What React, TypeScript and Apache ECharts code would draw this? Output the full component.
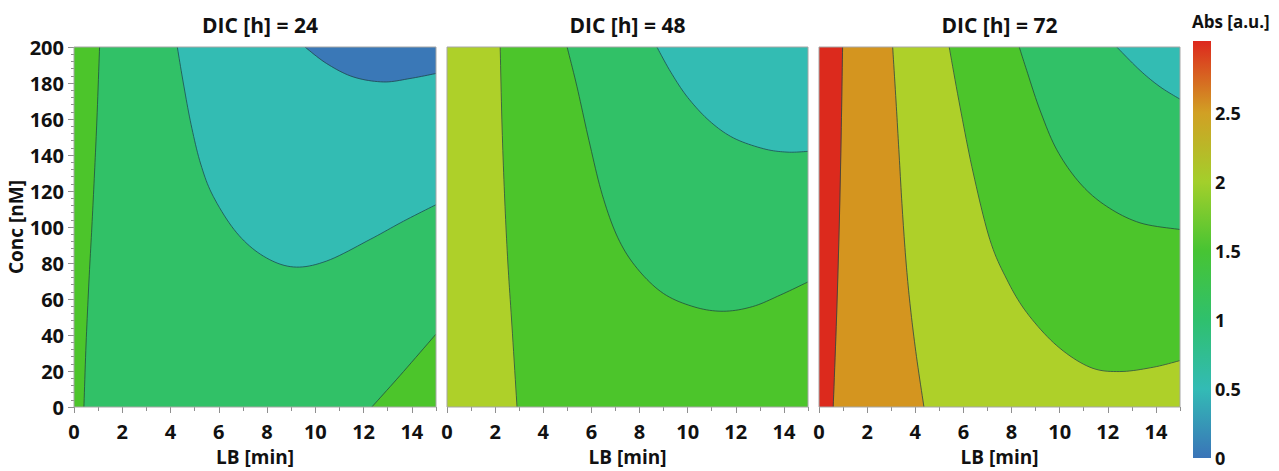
import React, { useEffect, useRef } from 'react';
import * as echarts from 'echarts';

// ---------- data ----------
const DIC_HOURS = [24, 48, 72];
const LB_MAJOR_TICKS = [0, 2, 4, 6, 8, 10, 12, 14];
const LB_MINOR_TICKS = [1, 3, 5, 7, 9, 11, 13, 15];
const LB_RANGE = [0, 15];
const CONC_RANGE = [0, 200];
const ABS_RANGE = [0, 3.02];
const ABS_STOPS = [0, 0.5, 1, 1.5, 2, 2.5, 3.02];
const ABS_STOP_COLORS = ['#3a74b8', '#33bbb5', '#2fc06d', '#47c433', '#a3cf2b', '#d1a024', '#dd281e'];

// contour boundaries [LB min, Conc nM]
const DOMAIN = [[0, 0], [15, 0], [15, 200], [0, 200]];

// DIC 24 h
const D24_LEFT = [[0.41, 0], [0.5, 35], [0.62, 70], [0.74, 100], [0.85, 130], [0.95, 160], [1.06, 200]];
const D24_TEAL = [[4.28, 200], [4.53, 180], [4.85, 157], [5.25, 135], [5.77, 117], [6.74, 96.8], [7.85, 83.8], [9.09, 77.8], [10.47, 81.1], [12.27, 93.1], [13.65, 103.2], [15, 112.4]];
const D24_BLUE = [[9.57, 200], [10.47, 190.8], [11.57, 183.4], [12.82, 180.6], [13.92, 182.5], [15, 185.3]];
const D24_LOWRIGHT = [[12.34, 0], [13.51, 17.5], [15, 40.5]];

// DIC 48 h
const D48_YELLOW = [[2.91, 0], [2.7, 45], [2.53, 80], [2.4, 115], [2.29, 155], [2.21, 200]];
const D48_LIME = [[4.99, 200], [5.4, 178], [5.9, 148], [6.45, 118], [7.1, 94], [7.9, 77], [9.0, 63], [10.3, 55.5], [11.5, 53.2], [12.7, 55.8], [13.85, 62.2], [15, 69.5]];
const D48_TEAL = [[8.72, 200], [9.3, 186], [10.0, 172], [10.9, 159], [11.9, 149.5], [13.15, 143.5], [14.13, 141.6], [15, 142]];

// DIC 72 h
const D72_RED = [[0.98, 200], [0.92, 150], [0.84, 100], [0.73, 50], [0.59, 0]];
const D72_ORANGE = [[3.06, 200], [3.2, 170], [3.33, 140], [3.46, 110], [3.62, 80], [3.8, 55], [4.05, 28], [4.36, 0]];
const D72_YELLOW = [[5.41, 200], [5.86, 166.8], [6.41, 130], [7.1, 93], [7.8, 71], [8.63, 52.5], [9.88, 34.1], [11.26, 22.1], [12.5, 19.7], [13.89, 22.1], [15, 25.8]];
const D72_LIME = [[8.32, 200], [8.63, 187], [9.18, 165], [9.88, 142.9], [10.84, 124.4], [11.95, 111.5], [13.34, 102.3], [15, 98.6]];
const D72_TEAL = [[12.37, 200], [13.34, 187], [14.17, 177.9], [15, 171]];

// ---------- styles ----------
const FILL = {
  blue: '#3a78b7',
  teal: '#33bcb3',
  green: '#31c167',
  lime: '#4cc52b',
  yellow: '#aed029',
  orange: '#d4951f',
  red: '#dc2a1d',
};
const LINE_COLOR = 'rgba(30,70,70,0.75)';
const FONT = '"Open Sans", "Noto Sans", sans-serif';
const TEXT_COLOR = '#111';

type Region = { fill: string; curve: number[][]; close: number[][] };

const PANELS: Region[][] = [
  [
    { fill: FILL.green, curve: [], close: DOMAIN },
    { fill: FILL.lime, curve: D24_LEFT, close: [[0, 200], [0, 0]] },
    { fill: FILL.teal, curve: D24_TEAL, close: [[15, 200]] },
    { fill: FILL.blue, curve: D24_BLUE, close: [[15, 200]] },
    { fill: FILL.lime, curve: D24_LOWRIGHT, close: [[15, 0]] },
  ],
  [
    { fill: FILL.green, curve: [], close: DOMAIN },
    { fill: FILL.lime, curve: D48_LIME, close: [[15, 0], [0, 0], [0, 200]] },
    { fill: FILL.yellow, curve: D48_YELLOW, close: [[0, 200], [0, 0]] },
    { fill: FILL.teal, curve: D48_TEAL, close: [[15, 200]] },
  ],
  [
    { fill: FILL.green, curve: [], close: DOMAIN },
    { fill: FILL.lime, curve: D72_LIME, close: [[15, 0], [0, 0], [0, 200]] },
    { fill: FILL.yellow, curve: D72_YELLOW, close: [[15, 0], [0, 0], [0, 200]] },
    { fill: FILL.orange, curve: D72_ORANGE, close: [[0, 0], [0, 200]] },
    { fill: FILL.red, curve: D72_RED, close: [[0, 0], [0, 200]] },
    { fill: FILL.teal, curve: D72_TEAL, close: [[15, 200]] },
  ],
];

function smoothPts(pts: number[][], seg = 10): number[][] {
  if (pts.length < 3) return pts;
  const out: number[][] = [];
  for (let i = 0; i < pts.length - 1; i++) {
    const p0 = pts[i - 1] || pts[i];
    const p1 = pts[i];
    const p2 = pts[i + 1];
    const p3 = pts[i + 2] || pts[i + 1];
    for (let t = 0; t < seg; t++) {
      const s = t / seg;
      const s2 = s * s;
      const s3 = s2 * s;
      out.push([0, 1].map(
        (k) =>
          0.5 *
          (2 * p1[k] +
            (-p0[k] + p2[k]) * s +
            (2 * p0[k] - 5 * p1[k] + 4 * p2[k] - p3[k]) * s2 +
            (-p0[k] + 3 * p1[k] - 3 * p2[k] + p3[k]) * s3)
      ));
    }
  }
  out.push(pts[pts.length - 1]);
  return out;
}

const GRIDS = [
  { left: 74, top: 47, width: 362, height: 361 },
  { left: 447, top: 47, width: 361, height: 361 },
  { left: 819, top: 47, width: 361, height: 361 },
];
const TITLE_X = [260, 627.5, 999.5];

export default function App() {
  const ref = useRef<HTMLDivElement>(null);
  useEffect(() => {
    if (!ref.current) return;
    const chart = echarts.init(ref.current, undefined, { renderer: 'svg' });

    const grid: any[] = GRIDS.map((g) => ({
      ...g,
      show: true,
      borderColor: '#a6a6a6',
      borderWidth: 1,
      backgroundColor: 'transparent',
      z: 5,
    }));
    grid.push({ left: 1193, top: 41, width: 18, height: 417 });

    const xAxis: any[] = [];
    const yAxis: any[] = [];
    const series: any[] = [];

    PANELS.forEach((regions, i) => {
      xAxis.push({
        type: 'value',
        gridIndex: i,
        position: 'bottom',
        min: LB_RANGE[0],
        max: LB_RANGE[1],
        name: 'LB [min]',
        nameLocation: 'middle',
        nameGap: 40,
        nameTextStyle: { fontFamily: FONT, fontWeight: 'bold', fontSize: 19, color: TEXT_COLOR },
        axisLine: { show: false },
        splitLine: { show: false },
        axisTick: { show: true, customValues: LB_MAJOR_TICKS, length: 6, lineStyle: { color: '#8f8f8f' } },
        axisLabel: { customValues: LB_MAJOR_TICKS, fontFamily: FONT, fontWeight: 'bold', fontSize: 20, color: TEXT_COLOR, margin: 14 },
      });
      xAxis.push({
        type: 'value',
        gridIndex: i,
        position: 'bottom',
        min: LB_RANGE[0],
        max: LB_RANGE[1],
        axisLine: { show: false },
        splitLine: { show: false },
        axisLabel: { show: false },
        axisTick: { show: true, customValues: LB_MINOR_TICKS, length: 4, lineStyle: { color: '#8f8f8f' } },
      });
      yAxis.push({
        type: 'value',
        gridIndex: i,
        min: CONC_RANGE[0],
        max: CONC_RANGE[1],
        interval: 20,
        name: i === 0 ? 'Conc [nM]' : '',
        nameLocation: 'middle',
        nameGap: 48,
        nameTextStyle: { fontFamily: FONT, fontWeight: 'bold', fontSize: 19, color: TEXT_COLOR },
        axisLine: { show: false },
        splitLine: { show: false },
        axisTick: { show: i === 0, length: 6, lineStyle: { color: '#8f8f8f' } },
        minorTick: { show: i === 0, splitNumber: 5, length: 3, lineStyle: { color: '#8f8f8f' } },
        minorSplitLine: { show: false },
        axisLabel: { show: i === 0, fontFamily: FONT, fontWeight: 'bold', fontSize: 20, color: TEXT_COLOR, margin: 10 },
      });
      series.push({
        type: 'custom',
        coordinateSystem: 'cartesian2d',
        xAxisIndex: 2 * i,
        yAxisIndex: i,
        silent: true,
        clip: true,
        data: regions.map((_, j) => [j, 0]),
        renderItem: (params: any, api: any) => {
          const r = regions[params.dataIndex];
          const curvePx = smoothPts(r.curve.map((p) => api.coord(p)), 10);
          const closePx = r.close.map((p) => api.coord(p));
          const children: any[] = [
            {
              type: 'polygon',
              shape: { points: [...curvePx, ...closePx] },
              style: { fill: r.fill, stroke: r.fill, lineWidth: 0.5 },
            },
          ];
          if (curvePx.length > 1) {
            children.push({
              type: 'polyline',
              shape: { points: curvePx },
              style: { stroke: LINE_COLOR, lineWidth: 1, fill: null },
            });
          }
          return { type: 'group', children };
        },
      });
    });

    // colour bar
    xAxis.push({ type: 'category', gridIndex: 3, data: ['Abs'], show: false });
    yAxis.push({
      type: 'value',
      gridIndex: 3,
      position: 'right',
      min: ABS_RANGE[0],
      max: ABS_RANGE[1],
      interval: 0.5,
      axisLine: { show: false },
      axisTick: { show: false },
      splitLine: { show: false },
      axisLabel: {
        fontFamily: FONT,
        fontWeight: 'bold',
        fontSize: 18,
        color: TEXT_COLOR,
        margin: 4,
        formatter: (v: number) => (v >= 3 ? '' : String(v)),
      },
    });
    series.push({
      type: 'bar',
      xAxisIndex: 6,
      yAxisIndex: 3,
      silent: true,
      barWidth: '100%',
      data: [ABS_RANGE[1]],
      itemStyle: {
        color: new echarts.graphic.LinearGradient(
          0, 1, 0, 0,
          ABS_STOPS.map((v, k) => ({ offset: v / ABS_RANGE[1], color: ABS_STOP_COLORS[k] }))
        ),
      },
    });

    const graphic: any[] = DIC_HOURS.map((h, i) => ({
      type: 'text',
      x: TITLE_X[i],
      y: 25,
      style: {
        text: `DIC [h] = ${h}`,
        textAlign: 'center',
        textVerticalAlign: 'middle',
        fontFamily: FONT,
        fontWeight: 'bold',
        fontSize: 21,
        fill: TEXT_COLOR,
      },
    }));
    graphic.push({
      type: 'text',
      x: 1192,
      y: 21,
      style: {
        text: 'Abs [a.u.]',
        textAlign: 'left',
        textVerticalAlign: 'middle',
        fontFamily: FONT,
        fontWeight: 'bold',
        fontSize: 17,
        fill: TEXT_COLOR,
      },
    });

    chart.setOption({
      animation: false,
      backgroundColor: '#ffffff',
      textStyle: { fontFamily: FONT },
      grid,
      xAxis,
      yAxis,
      series,
      graphic,
    });
    return () => chart.dispose();
  }, []);

  return <div ref={ref} style={{ width: 1279, height: 471, position: 'absolute', left: 0, top: 0 }} />;
}
